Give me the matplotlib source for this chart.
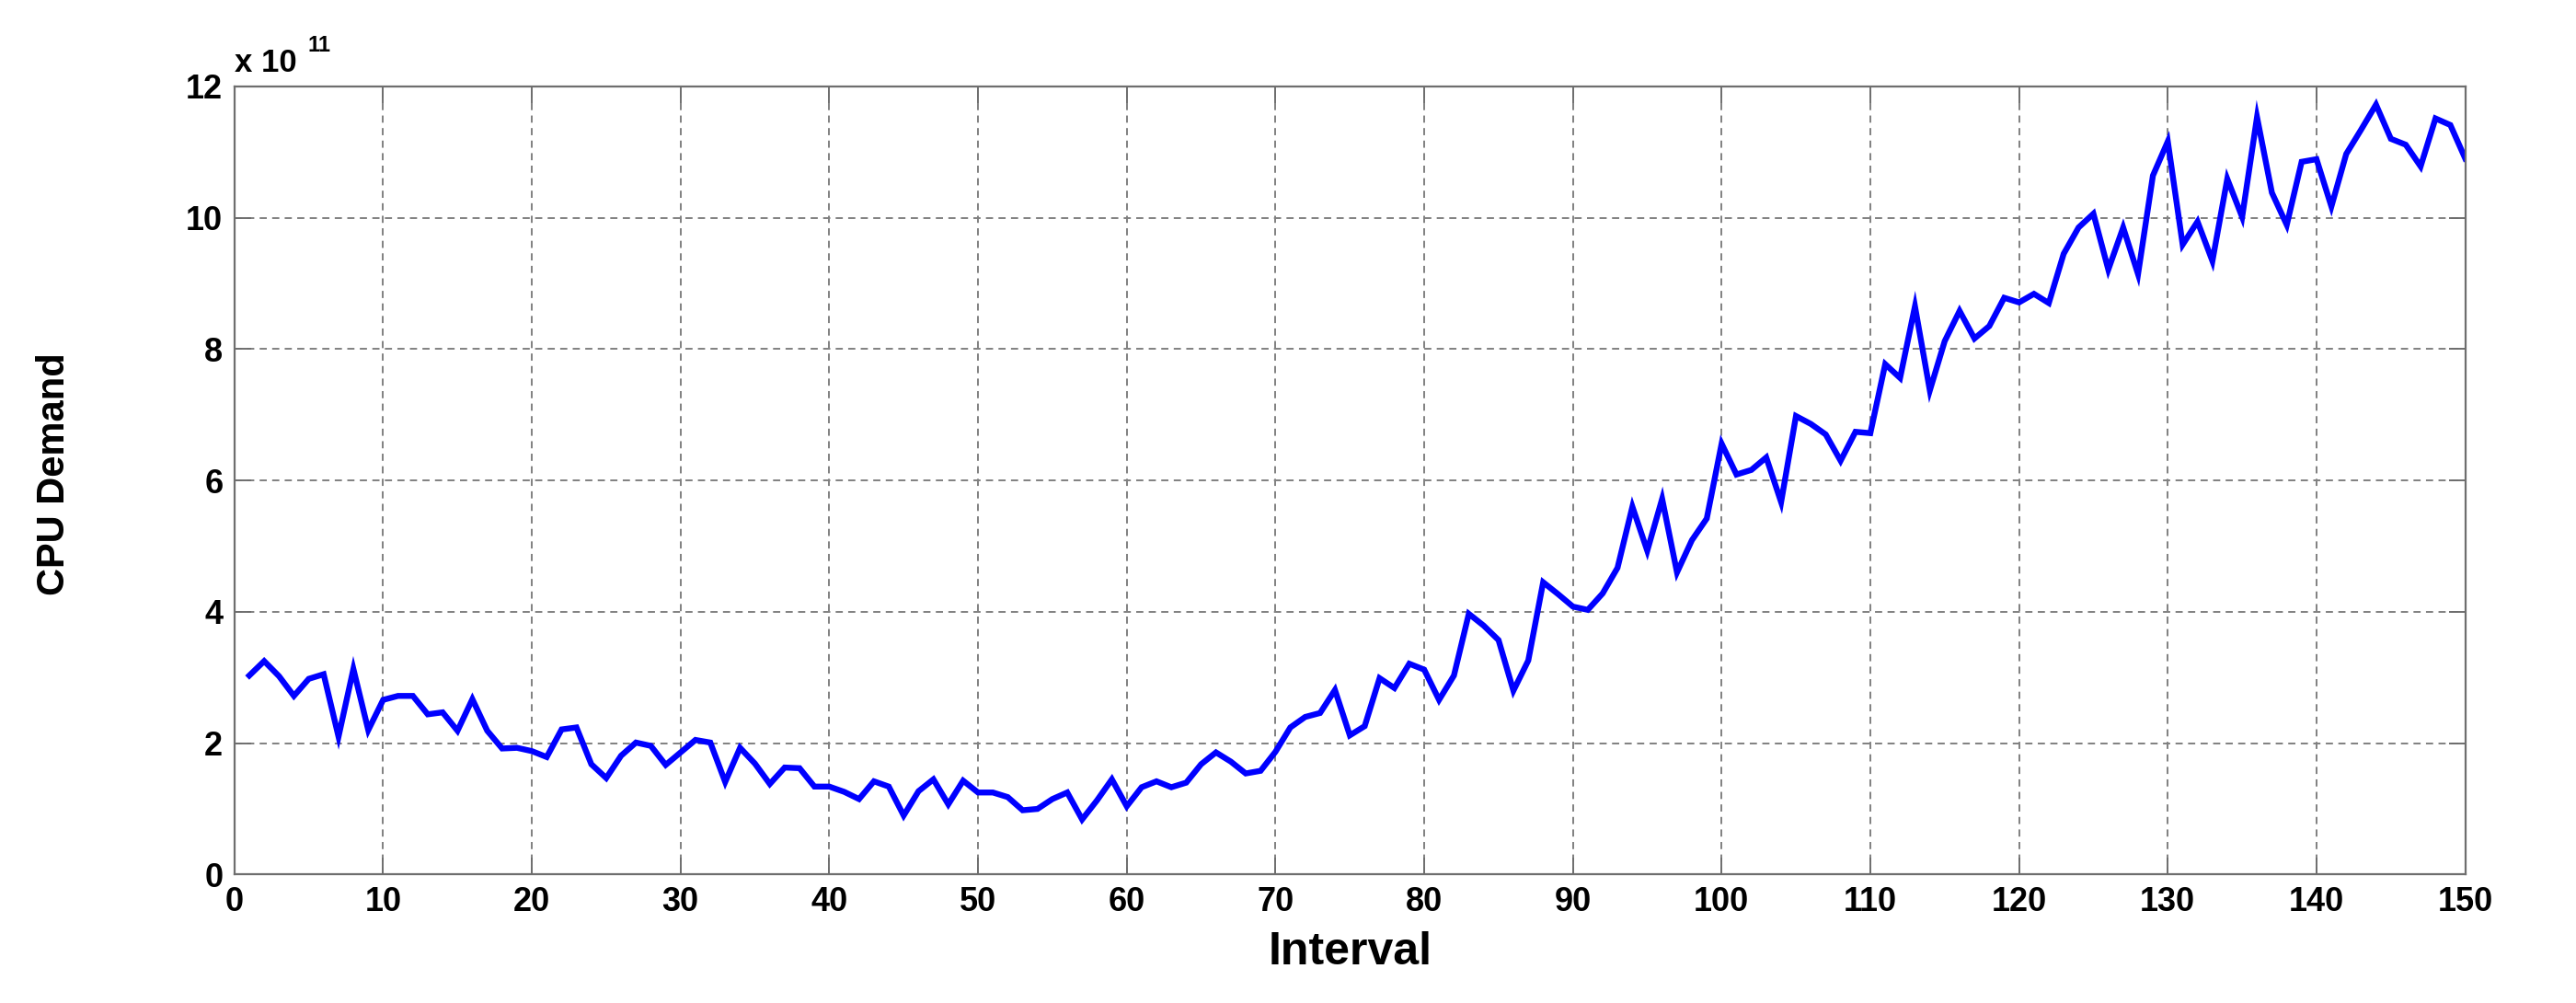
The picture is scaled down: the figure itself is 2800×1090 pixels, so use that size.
import numpy as np
import matplotlib
matplotlib.use("Agg")
import matplotlib.pyplot as plt

# Valores (CPU demand en unidades de 1e11)
interval = np.arange(1, 151)
cpu_demand = [
    3.03, 3.25, 3.02, 2.72, 2.98, 3.05, 2.10, 3.13, 2.20, 2.66,
    2.72, 2.72, 2.44, 2.47, 2.19, 2.67, 2.19, 1.92, 1.93, 1.88,
    1.79, 2.21, 2.24, 1.68, 1.47, 1.81, 2.01, 1.96, 1.67, 1.86,
    2.05, 2.01, 1.41, 1.93, 1.69, 1.38, 1.63, 1.62, 1.34, 1.34,
    1.26, 1.15, 1.42, 1.34, 0.90, 1.27, 1.45, 1.07, 1.43, 1.25,
    1.25, 1.18, 0.98, 1.00, 1.15, 1.25, 0.84, 1.13, 1.45, 1.04,
    1.33, 1.42, 1.33, 1.40, 1.68, 1.86, 1.72, 1.54, 1.58, 1.87,
    2.24, 2.40, 2.46, 2.81, 2.12, 2.26, 2.99, 2.84, 3.21, 3.12,
    2.66, 3.03, 3.97, 3.79, 3.57, 2.80, 3.26, 4.45, 4.27, 4.08,
    4.03, 4.28, 4.67, 5.60, 4.93, 5.72, 4.60, 5.09, 5.42, 6.56,
    6.09, 6.16, 6.35, 5.67, 6.98, 6.86, 6.70, 6.30, 6.74, 6.72,
    7.77, 7.56, 8.65, 7.37, 8.12, 8.58, 8.16, 8.35, 8.78, 8.71,
    8.84, 8.70, 9.45, 9.85, 10.06, 9.21, 9.85, 9.14, 10.64, 11.16,
    9.59, 9.94, 9.34, 10.59, 10.01, 11.53, 10.38, 9.89, 10.85, 10.89,
    10.17, 10.97, 11.34, 11.72, 11.20, 11.11, 10.78, 11.51, 11.41, 10.90,
]
x_ticks = np.arange(0, 151, 10)
y_ticks = np.arange(0, 13, 2)

plt.rcParams['font.family'] = ['Liberation Sans', 'DejaVu Sans']

fig = plt.figure(figsize=(28, 10.9), dpi=100)
ax = fig.add_axes([0.091, 0.128, 0.866, 0.786])

ax.plot(interval, cpu_demand, color='#0000ff', linewidth=4.6,
        solid_joinstyle='miter')

ax.set_xlim(0, 150)
ax.set_ylim(0, 12)
ax.set_xticks(x_ticks)
ax.set_yticks(y_ticks)

# Grilla punteada al estilo MATLAB
ax.grid(True, color='#808080', linestyle=(0, (4, 3)), linewidth=1.4)
ax.set_axisbelow(True)

for sp in ax.spines.values():
    sp.set_color('#6e6e6e')
    sp.set_linewidth(1.6)

ax.tick_params(axis='both', direction='in', length=13, width=1.4,
               color='#6e6e6e', top=True, right=True,
               labelsize=26, pad=9)
for lbl in ax.get_xticklabels() + ax.get_yticklabels():
    lbl.set_fontweight('bold')

ax.set_xlabel('Interval', fontsize=36, fontweight='bold', labelpad=10)
fig.text(0.021, 0.527, 'CPU Demand', rotation=90, fontsize=30,
         fontweight='bold', ha='center', va='center')

# Factor de escala
fig.text(0.091, 0.922, 'x 10', fontsize=25, fontweight='bold',
         ha='left', va='bottom')
fig.text(0.1195, 0.944, '11', fontsize=17, fontweight='bold',
         ha='left', va='bottom')

plt.savefig('out.png', dpi=100)
